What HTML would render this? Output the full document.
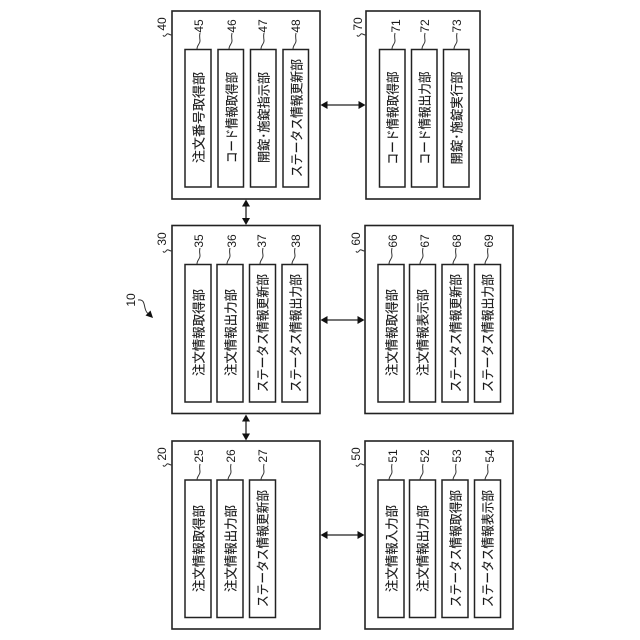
<!DOCTYPE html>
<html><head><meta charset="utf-8"><style>
html,body{margin:0;padding:0;background:#fff}
svg{display:block}
.b{fill:#fff;stroke:#222;stroke-width:1.6}
.i{fill:#fff;stroke:#222;stroke-width:1.5}
.l{fill:none;stroke:#222;stroke-width:1.3}
.s{fill:none;stroke:#333;stroke-width:1}
.h{fill:#111}
text{fill:#1a1a1a;text-anchor:middle;dominant-baseline:central}
.t{font:13px "Noto Sans CJK JP","Liberation Sans",sans-serif;stroke:#1a1a1a;stroke-width:.15}
.n{font:12px "Liberation Sans",sans-serif}
</style></head><body>
<svg width="640" height="640" viewBox="0 0 640 640" xmlns="http://www.w3.org/2000/svg">
<!-- outer boxes -->
<rect class="b" x="172" y="11" width="148" height="188"/>
<rect class="b" x="366" y="11" width="114" height="188"/>
<rect class="b" x="172" y="225.500" width="148" height="188"/>
<rect class="b" x="365" y="225.500" width="148" height="188"/>
<rect class="b" x="172" y="441" width="148" height="188"/>
<rect class="b" x="365" y="441" width="148" height="188"/>
<!-- inner boxes -->
<g class="i">
<rect x="185" y="49.500" width="26" height="137.500"/><rect x="218" y="49.500" width="25.500" height="137.500"/><rect x="250.500" y="49.500" width="25.500" height="137.500"/><rect x="283" y="49.500" width="25.500" height="137.500"/>
<rect x="379.500" y="49.500" width="25.500" height="137.500"/><rect x="411.500" y="49.500" width="25.500" height="137.500"/><rect x="443.500" y="49.500" width="25.500" height="137.500"/>
<rect x="185" y="264.500" width="26" height="137.500"/><rect x="217" y="264.500" width="26" height="137.500"/><rect x="249.500" y="264.500" width="26" height="137.500"/><rect x="282" y="264.500" width="25.500" height="137.500"/>
<rect x="378" y="264.500" width="26" height="137.500"/><rect x="409.500" y="264.500" width="26" height="137.500"/><rect x="442" y="264.500" width="26" height="137.500"/><rect x="474.500" y="264.500" width="26" height="137.500"/>
<rect x="185" y="480" width="26" height="137.500"/><rect x="217" y="480" width="26" height="137.500"/><rect x="249.500" y="480" width="26" height="137.500"/>
<rect x="378" y="480" width="26" height="137.500"/><rect x="409.500" y="480" width="26" height="137.500"/><rect x="442" y="480" width="26" height="137.500"/><rect x="474.500" y="480" width="26" height="137.500"/>
</g>
<!-- inner labels -->
<g class="t">
<text transform="translate(198 117.500) rotate(-90)" textLength="91" lengthAdjust="spacingAndGlyphs">注文番号取得部</text>
<text transform="translate(231 117.500) rotate(-90)" textLength="91" lengthAdjust="spacingAndGlyphs">コード情報取得部</text>
<text transform="translate(263 117.500) rotate(-90)" textLength="91" lengthAdjust="spacingAndGlyphs">開錠･施錠指示部</text>
<text transform="translate(296 118) rotate(-90)" textLength="118" lengthAdjust="spacingAndGlyphs">ステータス情報更新部</text>
<text transform="translate(392 118) rotate(-90)" textLength="93" lengthAdjust="spacingAndGlyphs">コード情報取得部</text>
<text transform="translate(424 118) rotate(-90)" textLength="93" lengthAdjust="spacingAndGlyphs">コード情報出力部</text>
<text transform="translate(456 118) rotate(-90)" textLength="93" lengthAdjust="spacingAndGlyphs">開錠･施錠実行部</text>
<text transform="translate(198 332.500) rotate(-90)" textLength="87" lengthAdjust="spacingAndGlyphs">注文情報取得部</text>
<text transform="translate(230 332.500) rotate(-90)" textLength="87" lengthAdjust="spacingAndGlyphs">注文情報出力部</text>
<text transform="translate(262 333) rotate(-90)" textLength="118" lengthAdjust="spacingAndGlyphs">ステータス情報更新部</text>
<text transform="translate(295 333) rotate(-90)" textLength="118" lengthAdjust="spacingAndGlyphs">ステータス情報出力部</text>
<text transform="translate(391 332.500) rotate(-90)" textLength="87" lengthAdjust="spacingAndGlyphs">注文情報取得部</text>
<text transform="translate(422 332.500) rotate(-90)" textLength="87" lengthAdjust="spacingAndGlyphs">注文情報表示部</text>
<text transform="translate(455 333) rotate(-90)" textLength="118" lengthAdjust="spacingAndGlyphs">ステータス情報更新部</text>
<text transform="translate(487 333) rotate(-90)" textLength="118" lengthAdjust="spacingAndGlyphs">ステータス情報出力部</text>
<text transform="translate(198 548.500) rotate(-90)" textLength="87" lengthAdjust="spacingAndGlyphs">注文情報取得部</text>
<text transform="translate(230 548.500) rotate(-90)" textLength="87" lengthAdjust="spacingAndGlyphs">注文情報出力部</text>
<text transform="translate(262 548.500) rotate(-90)" textLength="117" lengthAdjust="spacingAndGlyphs">ステータス情報更新部</text>
<text transform="translate(391 548.500) rotate(-90)" textLength="87" lengthAdjust="spacingAndGlyphs">注文情報入力部</text>
<text transform="translate(422 548.500) rotate(-90)" textLength="87" lengthAdjust="spacingAndGlyphs">注文情報出力部</text>
<text transform="translate(455 548.500) rotate(-90)" textLength="117" lengthAdjust="spacingAndGlyphs">ステータス情報取得部</text>
<text transform="translate(487 548.500) rotate(-90)" textLength="117" lengthAdjust="spacingAndGlyphs">ステータス情報表示部</text>
</g>
<!-- numbers -->
<g class="n">
<text transform="translate(162 24) rotate(-90)">40</text><text transform="translate(199 26) rotate(-90)">45</text><text transform="translate(232 26) rotate(-90)">46</text><text transform="translate(263 26) rotate(-90)">47</text><text transform="translate(296 26) rotate(-90)">48</text>
<text transform="translate(358 24) rotate(-90)">70</text><text transform="translate(396 26) rotate(-90)">71</text><text transform="translate(425 26) rotate(-90)">72</text><text transform="translate(457 26) rotate(-90)">73</text>
<text transform="translate(162 239) rotate(-90)">30</text><text transform="translate(199 241) rotate(-90)">35</text><text transform="translate(232 241) rotate(-90)">36</text><text transform="translate(262 241) rotate(-90)">37</text><text transform="translate(296 241) rotate(-90)">38</text>
<text transform="translate(356 239) rotate(-90)">60</text><text transform="translate(393 241) rotate(-90)">66</text><text transform="translate(425 241) rotate(-90)">67</text><text transform="translate(457 241) rotate(-90)">68</text><text transform="translate(489 241) rotate(-90)">69</text>
<text transform="translate(162 454) rotate(-90)">20</text><text transform="translate(199 456) rotate(-90)">25</text><text transform="translate(231 456) rotate(-90)">26</text><text transform="translate(263 456) rotate(-90)">27</text>
<text transform="translate(356 454) rotate(-90)">50</text><text transform="translate(393 456) rotate(-90)">51</text><text transform="translate(425 456) rotate(-90)">52</text><text transform="translate(457 456) rotate(-90)">53</text><text transform="translate(490 456) rotate(-90)">54</text>
<text transform="translate(131 300) rotate(-90)">10</text>
</g>
<!-- squiggles -->
<defs><path id="q" class="s" d="M0 0C0-4 3-5 3-8S2-12 3-16"/><path id="r" class="s" d="M0 0C-3 0-4-2-5-1S-8 3-9 0"/></defs>
<g>
<use href="#q" x="197" y="49"/><use href="#q" x="229" y="49"/><use href="#q" x="261" y="49"/><use href="#q" x="293" y="49"/>
<use href="#q" x="392" y="49"/><use href="#q" x="422" y="49"/><use href="#q" x="454" y="49"/>
<use href="#q" x="197" y="264"/><use href="#q" x="227" y="264"/><use href="#q" x="260" y="264"/><use href="#q" x="292" y="264"/>
<use href="#q" x="389" y="264"/><use href="#q" x="420" y="264"/><use href="#q" x="453" y="264"/><use href="#q" x="485" y="264"/>
<use href="#q" x="197" y="480"/><use href="#q" x="228" y="480"/><use href="#q" x="261" y="480"/>
<use href="#q" x="389" y="480"/><use href="#q" x="420" y="480"/><use href="#q" x="453" y="480"/><use href="#q" x="485" y="480"/>
<use href="#r" x="172" y="35"/><use href="#r" x="366" y="35"/><use href="#r" x="172" y="251"/><use href="#r" x="365" y="251"/><use href="#r" x="172" y="465"/><use href="#r" x="365" y="465"/>
</g>
<path class="s" d="M138 300C144 299 144 304 145 308S147 313 150 315"/>
<path class="h" d="M153 318L145.500 315.500L150.500 310.500Z"/>
<!-- connectors -->
<path class="l" d="M246 203V221M246 418V437M324 105H362M324 320H361M324 535H361"/>
<g class="h">
<path d="M246 199.500L242 206.500H250Z"/><path d="M246 225L242 218H250Z"/>
<path d="M246 414.500L242 421.500H250Z"/><path d="M246 440.500L242 433.500H250Z"/>
<path d="M320.500 105L327.500 101V109Z"/><path d="M365.500 105L358.500 101V109Z"/>
<path d="M320.500 320L327.500 316V324Z"/><path d="M364.500 320L357.500 316V324Z"/>
<path d="M320.500 535L327.500 531V539Z"/><path d="M364.500 535L357.500 531V539Z"/>
</g>
</svg>
</body></html>
